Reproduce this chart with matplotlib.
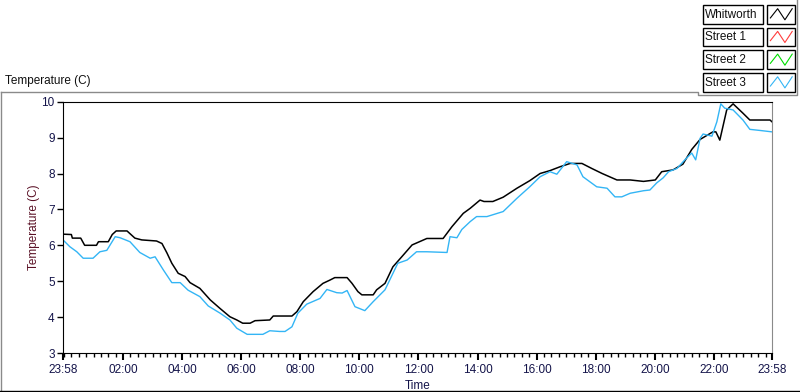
import matplotlib.pyplot as plt
from matplotlib.patches import Rectangle

plt.rcParams['font.family'] = ['Liberation Sans', 'DejaVu Sans']

# minutes since 23:58 (start of day window)
whit_t = [0, 17, 19, 36, 40, 44, 68, 72, 92, 100, 108, 130, 146, 160, 190, 201,
          211, 221, 234, 248, 258, 278, 299, 319, 339, 353, 365, 380, 390, 420,
          427, 465, 475, 488, 508, 528, 542, 552, 577, 587, 599, 607, 630, 637,
          654, 670, 688, 709, 739, 772, 790, 813, 827, 847, 855, 873, 894, 922,
          948, 969, 989, 1010, 1030, 1054, 1074, 1095, 1125, 1152, 1179, 1203,
          1216, 1239, 1259, 1277, 1294, 1320, 1326, 1334, 1348, 1361, 1381, 1395,
          1436, 1440]
whit_v = [6.31, 6.3, 6.2, 6.2, 6.1, 6.0, 6.0, 6.1, 6.1, 6.3, 6.4, 6.4, 6.2, 6.15,
          6.12, 6.05, 5.79, 5.5, 5.22, 5.13, 4.96, 4.80, 4.48, 4.24, 4.01, 3.92,
          3.83, 3.83, 3.9, 3.92, 4.03, 4.03, 4.15, 4.43, 4.71, 4.94, 5.03, 5.10,
          5.10, 4.94, 4.71, 4.62, 4.62, 4.76, 4.94, 5.40, 5.68, 6.01, 6.19, 6.19,
          6.52, 6.89, 7.03, 7.26, 7.22, 7.22, 7.34, 7.59, 7.80, 8.0, 8.08, 8.19,
          8.28, 8.28, 8.14, 8.0, 7.82, 7.82, 7.78, 7.82, 8.05, 8.1, 8.26, 8.67,
          8.95, 9.16, 9.16, 8.93, 9.77, 9.94, 9.68, 9.49, 9.49, 9.44]

st3_t = [0, 14, 28, 41, 61, 75, 89, 106, 116, 136, 156, 177, 187, 204, 221, 238,
         254, 278, 295, 319, 339, 353, 374, 406, 420, 440, 451, 465, 477, 495,
         522, 536, 556, 567, 577, 593, 613, 630, 654, 680, 699, 718, 739, 780,
         786, 800, 810, 827, 840, 861, 894, 922, 948, 969, 989, 1003, 1023, 1044,
         1056, 1084, 1105, 1121, 1135, 1152, 1179, 1192, 1206, 1219, 1230, 1247,
         1263, 1277, 1285, 1294, 1300, 1318, 1328, 1336, 1344, 1361, 1381, 1395,
         1415, 1440]
st3_v = [6.15, 5.96, 5.82, 5.64, 5.64, 5.82, 5.86, 6.24, 6.21, 6.10, 5.80, 5.64,
         5.68, 5.31, 4.96, 4.96, 4.75, 4.57, 4.31, 4.11, 3.92, 3.69, 3.52, 3.52,
         3.62, 3.6, 3.6, 3.73, 4.11, 4.36, 4.52, 4.77, 4.68, 4.67, 4.74, 4.29,
         4.18, 4.43, 4.76, 5.5, 5.59, 5.82, 5.82, 5.8, 6.24, 6.21, 6.44, 6.66,
         6.80, 6.80, 6.94, 7.31, 7.63, 7.91, 8.05, 7.98, 8.33, 8.24, 7.91, 7.63,
         7.59, 7.35, 7.35, 7.45, 7.52, 7.54, 7.74, 7.88, 8.05, 8.14, 8.38, 8.57,
         8.38, 8.98, 9.1, 9.04, 9.44, 9.94, 9.82, 9.77, 9.49, 9.23, 9.20, 9.16]

series_names = ['Whitworth', 'Street 1', 'Street 2', 'Street 3']
series_colors = ['#000000', '#ff3c3c', '#00dd00', '#33b5f5']

xtick_pos = [0, 122, 242, 362, 482, 602, 722, 842, 962, 1082, 1202, 1322, 1440]
xtick_labels = ['23:58', '02:00', '04:00', '06:00', '08:00', '10:00', '12:00',
                '14:00', '16:00', '18:00', '20:00', '22:00', '23:58']
yticks = [3, 4, 5, 6, 7, 8, 9, 10]

W, H = 800, 392
fig = plt.figure(figsize=(W / 100, H / 100), dpi=100)

# overlay in pixel coords for frame and legend
ov = fig.add_axes([0, 0, 1, 1])
ov.set_xlim(0, W)
ov.set_ylim(H, 0)
ov.axis('off')
gray = '#8a8a8a'
ov.plot([0.5, 698, 698, 797, 797], [92, 92, 95, 95, 0], color=gray, lw=1)
ov.plot([0.5, 0.5], [92, H], color=gray, lw=1)
ov.plot([0, W], [391, 391], color='black', lw=1)
ov.text(5, 81, 'Temperature (C)', fontsize=8.5, va='center', ha='left', color='#101010')

zx = [0.12, 0.38, 0.64, 0.9]
zy = [0.3, 0.8, 0.2, 0.8]
for i, (name, col) in enumerate(zip(series_names, series_colors)):
    y0 = 5 + i * 22.7
    ov.add_patch(Rectangle((703, y0), 60, 18.5, fill=False, ec='black', lw=1))
    ov.add_patch(Rectangle((767, y0), 28, 18.5, fill=False, ec='black', lw=1))
    ov.text(705, y0 + 9.5, name, fontsize=8.5, va='center', ha='left', color='#101010')
    ov.plot([767 + 28 * x for x in zx], [y0 + 18.5 * (1 - y) for y in zy],
            color=col, lw=0.8)

ax = fig.add_axes([63 / W, 1 - 353 / H, 709 / W, (353 - 101.7) / H])
ax.plot(whit_t, whit_v, color=series_colors[0], lw=1.1)
ax.plot(st3_t, st3_v, color=series_colors[3], lw=1.0)

ax.set_xlim(0, 1440)
ax.set_ylim(3, 10)
ax.set_xticks(xtick_pos)
ax.set_xticklabels(xtick_labels)
ax.set_xticks([m for m in range(2, 1440, 15) if m not in xtick_pos], minor=True)
ax.set_yticks(yticks)
ax.tick_params(axis='x', which='major', length=5, width=1.5, direction='out',
               labelsize=8.5, labelcolor='#14144a', pad=3)
ax.tick_params(axis='x', which='minor', length=3, width=1, direction='out')
ax.tick_params(axis='y', length=4, width=1, direction='out', labelsize=8.5,
               labelcolor='#14144a', pad=2)
ax.spines['right'].set_color(gray)
for s in ['left', 'top', 'bottom']:
    ax.spines[s].set_color('black')
ax.set_xlabel('Time', fontsize=8.5, color='#14144a', labelpad=3)
ax.set_ylabel('Temperature (C)', fontsize=8.5, color='#5a1025', labelpad=1)

fig.savefig('out.png', dpi=100)
